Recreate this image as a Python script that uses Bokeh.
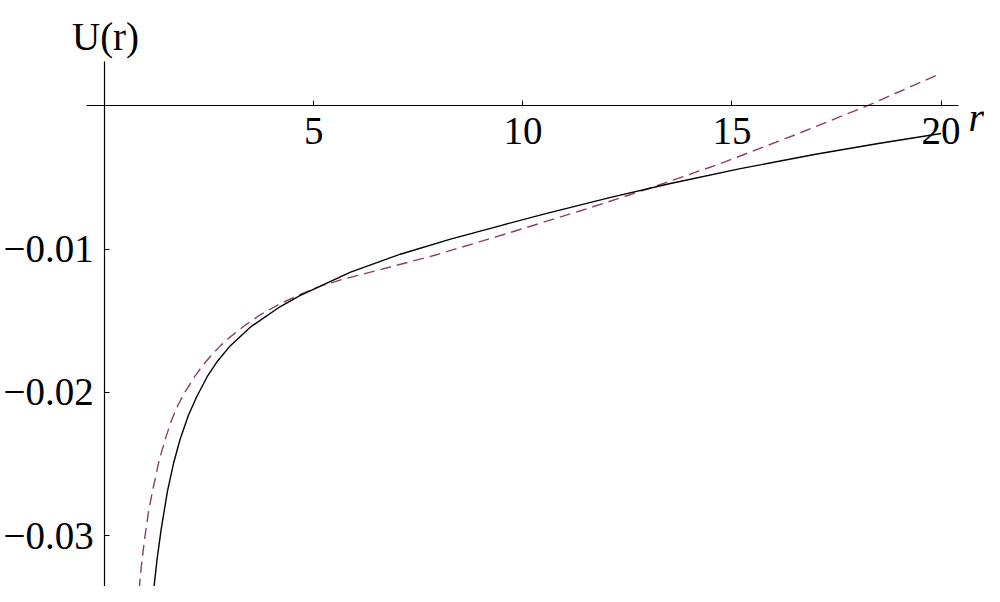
from bokeh.plotting import figure
from bokeh.models import Range1d, LinearAxis, FixedTicker, Label
from bokeh.embed import file_html
from bokeh.resources import INLINE

# ---- data ----
r_solid = [1.17, 1.25, 1.35, 1.5, 1.65, 1.8, 2.0, 2.2, 2.45, 2.7, 3.0, 3.5, 4.2,
           4.68, 5.88, 7.07, 8.27, 9.47, 10.5, 12.1, 13.5, 15.2, 17.0, 18.5, 20.0]
u_solid = [-0.0338, -0.0317, -0.02955, -0.0269, -0.0249, -0.0233, -0.0216, -0.0203, -0.0189,
           -0.0178, -0.01675, -0.0154, -0.0140, -0.01323, -0.0116, -0.01035, -0.0093,
           -0.00835, -0.00755, -0.00638, -0.00543, -0.00438, -0.00337, -0.00262, -0.00193]

r_dash = [0.824, 0.88, 0.952, 1.05, 1.16, 1.30, 1.454, 1.6, 1.75, 1.93, 2.15, 2.35, 2.53,
          2.77, 3.01, 3.35, 3.73, 4.2, 4.68, 5.2, 5.72, 6.83, 7.87, 9.39, 11.4, 13.0, 14.7,
          16.5, 18.23, 20.0]
u_dash = [-0.03375, -0.03201, -0.03028, -0.02828, -0.02665, -0.02476, -0.0232, -0.02192,
          -0.02089, -0.01992, -0.01889, -0.01809, -0.01747, -0.01673, -0.0161, -0.01532,
          -0.01456, -0.0138, -0.01315, -0.01253, -0.01208, -0.01124, -0.01044, -0.00911,
          -0.0073, -0.00578, -0.00405, -0.00203, 0.0, 0.00228]

x_ticks = [5, 10, 15, 20]
y_ticks = [-0.03, -0.02, -0.01]
y_tick_labels = {-0.03: "\u22120.03", -0.02: "\u22120.02", -0.01: "\u22120.01"}

FONT = "Liberation Serif"

p = figure(width=984, height=586, output_backend="svg", toolbar_location=None,
           x_range=Range1d(-2.4916, 21.038), y_range=Range1d(-0.033538, 0.007355),
           x_axis_type=None, y_axis_type=None,
           min_border_left=0, min_border_right=0, min_border_top=0, min_border_bottom=0)
p.outline_line_color = None
p.xgrid.visible = False
p.ygrid.visible = False
p.background_fill_color = "white"
p.border_fill_color = "white"

xaxis = LinearAxis(fixed_location=0, bounds=(-0.435, 20.42),
                   ticker=FixedTicker(ticks=x_ticks, minor_ticks=[]))
xaxis.major_tick_in = 5
xaxis.major_tick_out = 0
xaxis.minor_tick_in = 0
xaxis.minor_tick_out = 0
xaxis.major_label_standoff = 12
xaxis.major_label_text_font = FONT
xaxis.major_label_text_font_size = "39px"
xaxis.major_label_text_color = "black"
xaxis.axis_line_color = "black"
xaxis.axis_line_width = 1.2
xaxis.major_tick_line_color = "black"
p.add_layout(xaxis, "below")

yaxis = LinearAxis(fixed_location=0, bounds=(-0.036, 0.0031),
                   ticker=FixedTicker(ticks=y_ticks, minor_ticks=[]))
yaxis.major_tick_in = 5
yaxis.major_tick_out = 0
yaxis.minor_tick_in = 0
yaxis.minor_tick_out = 0
yaxis.major_label_standoff = 11
yaxis.major_label_overrides = y_tick_labels
yaxis.major_label_orientation = "horizontal"
yaxis.major_label_text_font = FONT
yaxis.major_label_text_font_size = "39px"
yaxis.major_label_text_color = "black"
yaxis.axis_line_color = "black"
yaxis.axis_line_width = 1.2
yaxis.major_tick_line_color = "black"
p.add_layout(yaxis, "left")

p.line(r_dash, u_dash, line_color="#8c3c6c", line_width=1.4, line_dash="11 6")
p.line(r_solid, u_solid, line_color="black", line_width=1.4)

p.add_layout(Label(x=0.02, y=0.00484, text="U(r)", text_align="center",
                   text_baseline="alphabetic", text_font=FONT,
                   text_font_size="39px", text_color="black"))
p.add_layout(Label(x=20.655, y=-0.00081, text="r", text_align="left",
                   text_baseline="alphabetic", text_font=FONT, text_font_style="italic",
                   text_font_size="40px", text_color="black"))

open("out.html", "w").write(file_html(p, INLINE))
